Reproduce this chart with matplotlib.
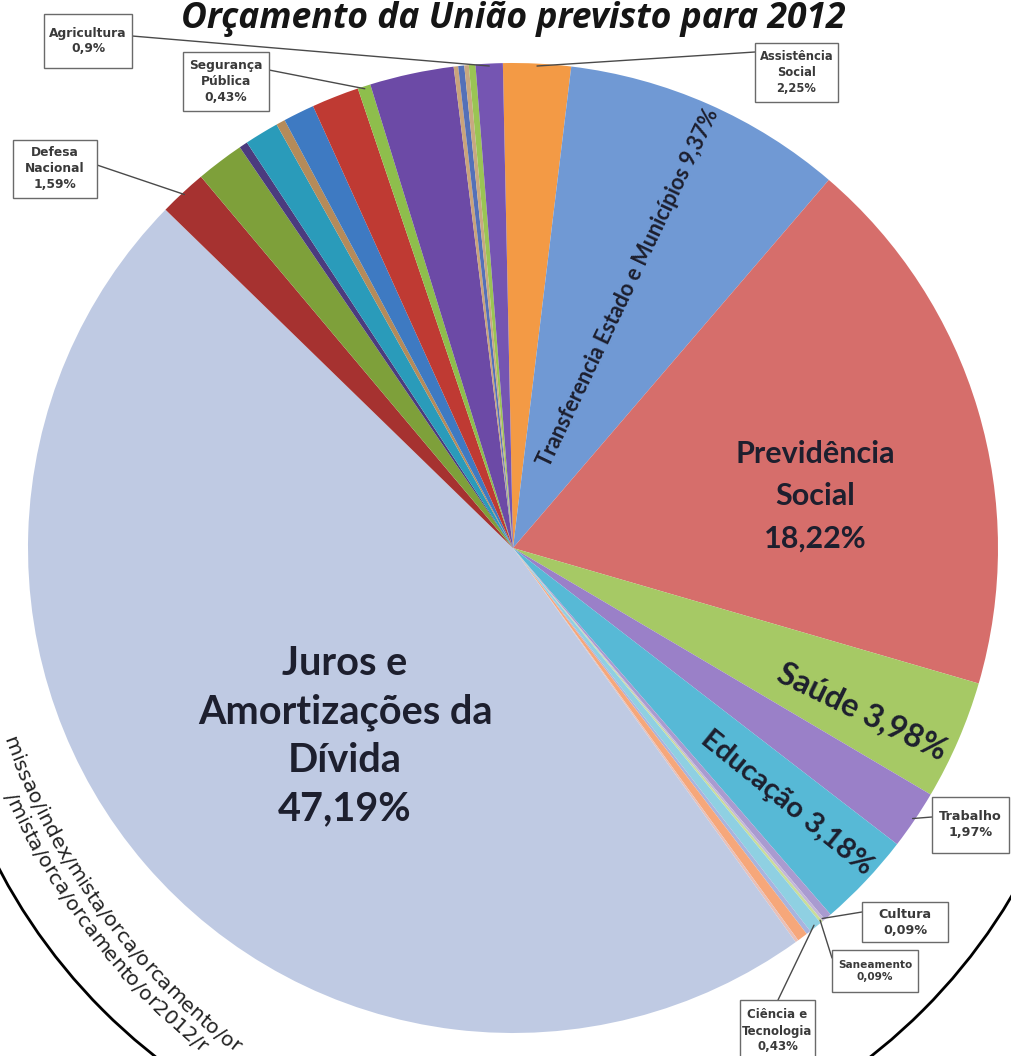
import numpy as np
import matplotlib
matplotlib.use("Agg")
import matplotlib.pyplot as plt
from matplotlib.patches import Rectangle, Arc
from matplotlib.font_manager import FontProperties
from matplotlib import font_manager, ft2font

W, H = 1011, 1056

# ---------------- data (clockwise from the top) ----------------
categories = [
    "Assistência Social", "Transferencia Estado e Municípios", "Previdência Social",
    "Saúde", "Trabalho", "Educação", "", "Cultura", "Saneamento",
    "Ciência e Tecnologia", "", "", "", "Juros e Amortizações da Dívida",
    "Defesa Nacional", "", "", "", "", "", "", "Segurança Pública",
    "", "", "", "", "", "Agricultura",
]
values = [
    2.25, 9.37, 18.22, 3.98, 1.97, 3.18, 0.25, 0.09, 0.09, 0.43, 0.15, 0.35, 0.10,
    47.19, 1.59, 1.60, 0.28, 1.14, 0.30, 1.04, 1.58, 0.43, 2.80, 0.15, 0.20, 0.15,
    0.22, 0.90,
]
colors = [
    "#F39A45", "#7099D4", "#D66E6B", "#A6C965", "#9A80C8", "#57B9D6", "#A99BD0",
    "#C3B6DA", "#C9DD9A", "#8FD0E2", "#A8B4DE", "#F6A77A", "#E8C0B8", "#BFCAE3",
    "#A63230", "#7EA03A", "#4B3B7E", "#2A9BBA", "#B58B5A", "#3E7AC2", "#BF3A33",
    "#8EBE4C", "#6C4AA6", "#C9A37C", "#5470B8", "#C8A881", "#9AC454", "#7555B2",
]
title = "Orçamento da União previsto para 2012"
source_lines = ["missao/index/mista/orca/orcamento/or", "/mista/orca/orcamento/or2012/r"]


def fmt(v):
    s = f"{v:.2f}".rstrip("0").rstrip(".")
    return s.replace(".", ",") + "%"


def idx(name):
    return categories.index(name)


# ---------------- figure ----------------
fig = plt.figure(figsize=(W / 100, H / 100), dpi=100)
fig.patch.set_facecolor("white")
ax = fig.add_axes([0, 0, 1, 1])

CX, CY_IMG, R = 513, 548, 485
CY = H - CY_IMG

wedges, _ = ax.pie(values, colors=colors, startangle=91.2, counterclock=False,
                   center=(CX, CY), radius=R, frame=True,
                   wedgeprops=dict(linewidth=0))
ax.set_xlim(0, W)
ax.set_ylim(0, H)
ax.set_aspect("equal")
ax.axis("off")

FAM = ["Lato", "DejaVu Sans"]
DARK = "#1d1f2e"

# title
ax.text(513, H - 19, title, ha="center", va="center", fontsize=25.6,
        fontweight="bold", fontstyle="italic", family=["Open Sans", "DejaVu Sans"],
        color="#151515")

# ---------------- labels inside the pie ----------------
inside = [
    # name, wrapped text, x, y (image), rotation, size, linespacing
    ("Juros e Amortizações da Dívida", "Juros e\nAmortizações da\nDívida", 345, 736, 0, 28.5, 1.38),
    ("Previdência Social", "Previdência\nSocial", 815, 496, 0, 22, 1.62),
    ("Transferencia Estado e Municípios", "Transferencia Estado e Municípios", 628, 288, 64.5, 15.5, 1.2),
    ("Saúde", "Saúde", 862, 712, -26, 23, 1.2),
    ("Educação", "Educação", 787, 803, -39, 21, 1.2),
]
for name, txt, x, y, rot, fs, ls in inside:
    i = idx(name)
    sep = "\n" if "\n" in txt else " "
    ax.text(x, H - y, txt + sep + fmt(values[i]), ha="center", va="center",
            rotation=rot, rotation_mode="anchor", fontsize=fs, fontweight="bold",
            family=FAM, color=DARK, linespacing=ls, multialignment="center")

# ---------------- callout boxes ----------------
callouts = [
    # name, wrapped, box (x0, y0, x1, y1 image), attach (image), fontsize
    ("Agricultura", "Agricultura", (44, 14, 132, 68), (132, 36), 8.8),
    ("Segurança Pública", "Segurança\nPública", (183, 52, 269, 111), (269, 70), 8.8),
    ("Defesa Nacional", "Defesa\nNacional", (13, 140, 97, 198), (97, 165), 8.8),
    ("Assistência Social", "Assistência\nSocial", (755, 43, 838, 102), (755, 52), 8.3),
    ("Trabalho", "Trabalho", (932, 797, 1009, 853), (932, 817), 9.2),
    ("Cultura", "Cultura", (862, 902, 948, 942), (862, 912), 9.2),
    ("Saneamento", "Saneamento", (832, 950, 918, 992), (832, 958), 7.6),
    ("Ciência e Tecnologia", "Ciência e\nTecnologia", (740, 1000, 815, 1062), (778, 1000), 8.5),
]
for name, txt, (x0, y0, x1, y1), (ax_, ay_), fs in callouts:
    i = idx(name)
    w = wedges[i]
    mid = np.radians((w.theta1 + w.theta2) / 2)
    px, py = CX + R * 0.995 * np.cos(mid), CY + R * 0.995 * np.sin(mid)
    ax.plot([ax_, px], [H - ay_, py], color="#4a4a4a", lw=1.0, zorder=4,
            solid_capstyle="round")
    ax.add_patch(Rectangle((x0, H - y1), x1 - x0, y1 - y0, facecolor="white",
                           edgecolor="#6a6a6a", lw=1.0, zorder=5))
    ax.text((x0 + x1) / 2, H - (y0 + y1) / 2, txt + "\n" + fmt(values[i]),
            ha="center", va="center", fontsize=fs, fontweight="bold",
            family=["DejaVu Sans"], color="#3a3a3a", linespacing=1.3, zorder=6)

# ---------------- source arc + curved text ----------------
ACX, ACY = 513, H - 600
ax.add_patch(Arc((ACX, ACY), 2 * 580, 2 * 580, theta1=180, theta2=360,
                 color="black", lw=2.0, zorder=3))

TCX, TCY = 650, H - 505   # centre of the circle the source text follows


def advances(s, family, size):
    fp = FontProperties(family=family, size=size)
    font = ft2font.FT2Font(font_manager.findfont(fp))
    font.set_size(size, 72)
    out = []
    for ch in s:
        g = font.load_char(ord(ch))
        try:
            a = g.linearHoriAdvance / 65536.0
        except Exception:
            a = g.horiAdvance / 64.0
        out.append(a * 100 / 72)   # pixels
    return np.array(out)


def curved_text(s, r, family="DejaVu Sans", color="#222222", m0=9, m1=4):
    # angular span where this circle is inside the picture (left edge -> bottom edge)
    phi0 = np.pi + np.arccos(min(1.0, TCX / r))
    phi1 = np.pi + np.arcsin(min(1.0, TCY / r))
    target = (phi1 - phi0) * r - m0 - m1
    adv = advances(s, family, 10)
    size = 10 * target / adv.sum()
    adv = adv * size / 10
    fp = FontProperties(family=family, size=size)
    pos = m0
    for ch, a in zip(s, adv):
        phi = phi0 + (pos + a / 2) / r
        pos += a
        x, y = TCX + r * np.cos(phi), TCY + r * np.sin(phi)
        ax.text(x, y, ch, rotation=np.degrees(phi) + 90, rotation_mode="anchor",
                ha="center", va="baseline", fontproperties=fp, color=color,
                zorder=3)


curved_text(source_lines[0], 688)
curved_text(source_lines[1], 709)

fig.savefig("out.png", dpi=100, facecolor="white")
